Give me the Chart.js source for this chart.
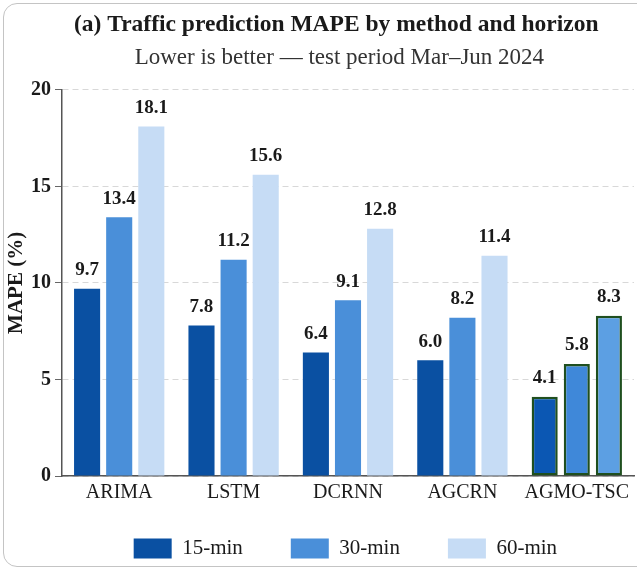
<!DOCTYPE html>
<html>
<head>
<meta charset="utf-8">
<script src="https://cdn.jsdelivr.net/npm/chart.js@4"></script>
<style>
  html, body { margin: 0; padding: 0; background: #fff; }
  #wrap { position: relative; width: 637px; height: 571px; overflow: hidden; }
  #card { position: absolute; left: 3px; top: 3px; width: 680px; height: 564px;
          border: 1.5px solid #c4c4c4; border-radius: 14px; box-sizing: border-box; }
  #chart { position: absolute; left: 0; top: 0; }
</style>
</head>
<body>
<div id="wrap">
  <div id="card"></div>
  <canvas id="chart" width="637" height="571"></canvas>
</div>
<script>
// Datos
const methods = ['ARIMA', 'LSTM', 'DCRNN', 'AGCRN', 'AGMO-TSC'];
const horizons = ['15-min', '30-min', '60-min'];
const mape15 = [9.7, 7.8, 6.4, 6.0, 4.1];
const mape30 = [13.4, 11.2, 9.1, 8.2, 5.8];
const mape60 = [18.1, 15.6, 12.8, 11.4, 8.3];
const yTicks = [0, 5, 10, 15, 20];

const SERIF = "'Liberation Serif', 'Times New Roman', serif";
const baseColors = ['#0a50a2', '#4a8fd9', '#c6dcf5'];
const oursColors = ['#0b57b3', '#3f88d9', '#5c9fe3'];
const oursIndex = methods.indexOf('AGMO-TSC');

function makeDataset(i, values) {
    return {
        label: horizons[i],
        data: values,
        backgroundColor: methods.map((m, k) => k === oursIndex ? oursColors[i] : baseColors[i]),
        borderColor: methods.map((m, k) => k === oursIndex ? '#1f4f1f' : 'rgba(0,0,0,0)'),
        borderWidth: methods.map((m, k) => k === oursIndex ? 2.5 : 0),
        borderSkipped: false,
        categoryPercentage: 0.842,
        barPercentage: 0.8125
    };
}

// Etiquetas de valor encima de cada barra
const valueLabels = {
    id: 'valueLabels',
    afterDatasetsDraw(chart) {
        const ctx = chart.ctx;
        ctx.save();
        ctx.font = 'bold 19px ' + SERIF;
        ctx.fillStyle = '#1a1a1a';
        ctx.textAlign = 'center';
        ctx.textBaseline = 'bottom';
        chart.data.datasets.forEach((ds, i) => {
            chart.getDatasetMeta(i).data.forEach((bar, k) => {
                ctx.fillText(ds.data[k].toFixed(1), bar.x, bar.y - 9);
            });
        });
        ctx.restore();
    }
};

new Chart(document.getElementById('chart'), {
    type: 'bar',
    data: {
        labels: methods,
        datasets: [makeDataset(0, mape15), makeDataset(1, mape30), makeDataset(2, mape60)]
    },
    options: {
        responsive: false,
        animation: false,
        layout: { padding: { top: 11, left: 6, right: 3, bottom: 2 } },
        scales: {
            x: {
                grid: { display: false, drawTicks: false },
                border: { color: '#555', width: 1.5 },
                ticks: { color: '#1a1a1a', font: { family: SERIF, size: 20 }, padding: 5 }
            },
            y: {
                min: 0,
                max: 20,
                afterBuildTicks: axis => { axis.ticks = yTicks.map(v => ({ value: v })); },
                grid: { color: '#d8d8d8', lineWidth: 1, tickColor: '#666', tickLength: 7 },
                border: { color: '#555', width: 1.5, dash: [6, 4] },
                ticks: { color: '#1a1a1a', font: { family: SERIF, size: 20, weight: 'bold' }, padding: 4 },
                title: {
                    display: true,
                    text: 'MAPE (%)',
                    color: '#1a1a1a',
                    font: { family: SERIF, size: 21, weight: 'bold', lineHeight: 1 },
                    padding: { top: 0, bottom: 0 }
                }
            }
        },
        plugins: {
            title: {
                display: true,
                fullSize: false,
                // espacios finales: centra el título un poco a la izquierda del área
                text: '(a) Traffic prediction MAPE by method and horizon    ',
                color: '#1a1a1a',
                font: { family: SERIF, size: 23.5, weight: 'bold' },
                padding: { top: 0, bottom: 5 }
            },
            subtitle: {
                display: true,
                fullSize: false,
                text: 'Lower is better — test period Mar–Jun 2024   ',
                color: '#333',
                font: { family: SERIF, size: 23 },
                padding: { top: 0, bottom: 18 }
            },
            legend: {
                position: 'bottom',
                fullSize: false,
                labels: {
                    color: '#1a1a1a',
                    font: { family: SERIF, size: 21 },
                    boxWidth: 38,
                    boxHeight: 20,
                    padding: 28,
                    generateLabels: chart => horizons.map((h, i) => ({
                        // espacios finales para separar los items como en la referencia
                        text: i < horizons.length - 1 ? h + '   \u2009' : h + ' ',
                        fillStyle: baseColors[i],
                        strokeStyle: baseColors[i],
                        lineWidth: 0,
                        datasetIndex: i,
                        fontColor: '#1a1a1a'
                    }))
                }
            },
            tooltip: { enabled: false }
        }
    },
    plugins: [valueLabels]
});
</script>
</body>
</html>
